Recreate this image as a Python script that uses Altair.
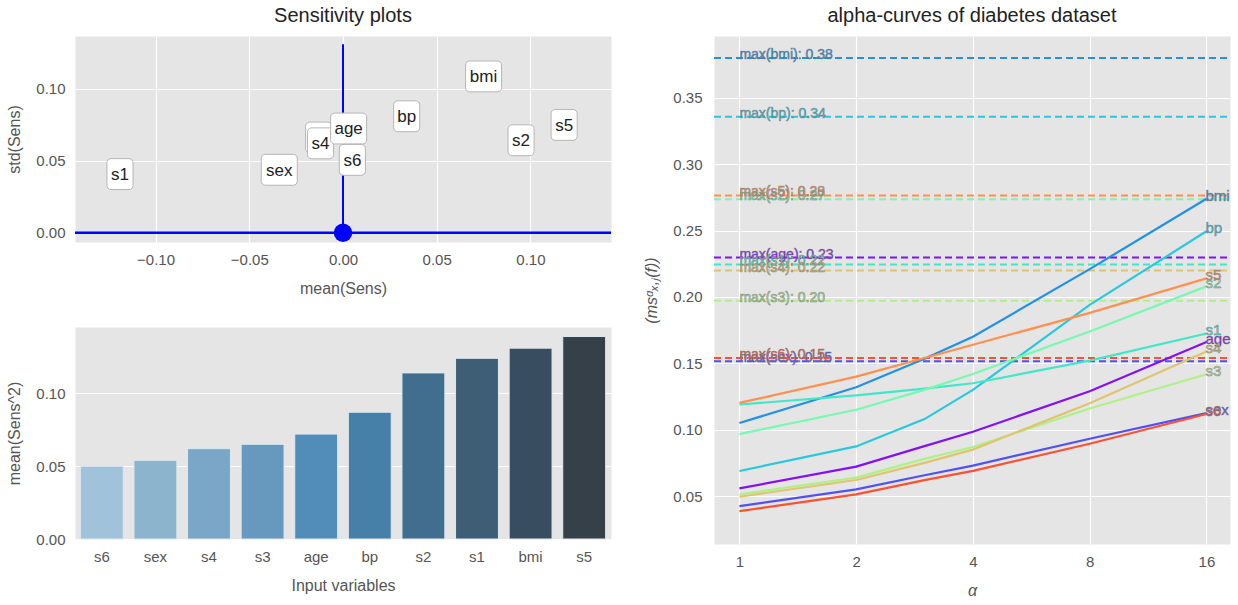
import altair as alt
import pandas as pd

# ---------------- data ----------------
variables = ["age", "sex", "bmi", "bp", "s1", "s2", "s3", "s4", "s5", "s6"]

# sensitivity scatter (label drawing order)
scatter_vars = ["s1", "sex", "s3", "s4", "age", "s6", "bp", "bmi", "s2", "s5"]
scatter_mean = [-0.119, -0.034, -0.013, -0.012, 0.003, 0.005, 0.034, 0.075, 0.095, 0.118]
scatter_std = [0.0408, 0.0438, 0.0662, 0.0622, 0.0725, 0.0507, 0.081, 0.1087, 0.0643, 0.075]

x_lim = [-0.143, 0.143]
y_lim = [-0.0064, 0.1368]
vline_top = 0.131

# bar chart
bar_vars = ["s6", "sex", "s4", "s3", "age", "bp", "s2", "s1", "bmi", "s5"]
bar_vals = [0.050, 0.054, 0.062, 0.065, 0.072, 0.087, 0.114, 0.124, 0.131, 0.139]
bar_colors = ["#a0c3d9", "#8cb4cd", "#7aa7c7", "#6799bf", "#528cb9",
              "#467fa8", "#416e8f", "#3e5e76", "#384e60", "#364048"]

# alpha curves
alphas = [1, 2, 3, 4, 8, 16]
curves = {
    "age": [0.0558, 0.0722, 0.0876, 0.0985, 0.129, 0.166],
    "sex": [0.0424, 0.055, 0.0657, 0.073, 0.0932, 0.1125],
    "bmi": [0.105, 0.132, 0.1535, 0.170, 0.221, 0.274],
    "bp": [0.0689, 0.0874, 0.108, 0.130, 0.194, 0.2495],
    "s1": [0.119, 0.1258, 0.131, 0.135, 0.152, 0.1725],
    "s2": [0.0967, 0.115, 0.130, 0.142, 0.174, 0.208],
    "s3": [0.0513, 0.0639, 0.078, 0.087, 0.116, 0.1418],
    "s4": [0.0495, 0.0621, 0.075, 0.085, 0.120, 0.159],
    "s5": [0.1202, 0.140, 0.154, 0.164, 0.188, 0.214],
    "s6": [0.0386, 0.0513, 0.062, 0.069, 0.0894, 0.1118],
}
max_vals = [0.2297, 0.1515, 0.380, 0.3357, 0.2245, 0.2737, 0.1972, 0.2199, 0.2765, 0.154]
line_colors = ["#8410fa", "#5050fa", "#2090e8", "#28c8e0", "#40e8c8",
               "#78f8b0", "#b0f088", "#e0c470", "#ff9050", "#ff5030"]
alpha_lim = [0.86, 18.4]
ms_lim = [0.0139, 0.3966]

FONT = "Liberation Sans"
GREY = "#555555"

# ---------------- sensitivity scatter ----------------
sc_df = pd.DataFrame({"var": scatter_vars, "mean": scatter_mean, "std": scatter_std})

xs = alt.Scale(domain=x_lim, nice=False, zero=False)
ys = alt.Scale(domain=y_lim, nice=False, zero=False)

minus = "replace(datum.label, '-', '\u2212')"
x_ax = alt.Axis(values=[-0.10, -0.05, 0.0, 0.05, 0.10], format=".2f", labelExpr=minus,
                title="mean(Sens)")
y_ax = alt.Axis(values=[0.0, 0.05, 0.10], format=".2f", title="std(Sens)")

hl = pd.DataFrame({"x": [x_lim[0]], "x2": [x_lim[1]], "y": [0.0]})
vl = pd.DataFrame({"x": [0.0], "y": [0.0], "y2": [vline_top]})
origin = pd.DataFrame({"x": [0.0], "y": [0.0]})

hrule = alt.Chart(hl).mark_rule(color="#0000ff", strokeWidth=2.5).encode(
    x=alt.X("x:Q", scale=xs, axis=x_ax), x2="x2:Q",
    y=alt.Y("y:Q", scale=ys, axis=y_ax))
vrule = alt.Chart(vl).mark_rule(color="#0000ff", strokeWidth=2).encode(
    x=alt.X("x:Q", scale=xs), y=alt.Y("y:Q", scale=ys), y2="y2:Q")
dot = alt.Chart(origin).mark_point(filled=True, color="#0000ff", opacity=1, size=340).encode(
    x=alt.X("x:Q", scale=xs), y=alt.Y("y:Q", scale=ys))


def rrect(w, h, r):
    return (f"M{-w + r},{-h} L{w - r},{-h} A{r},{r} 0 0 1 {w},{-h + r} "
            f"L{w},{h - r} A{r},{r} 0 0 1 {w - r},{h} L{-w + r},{h} "
            f"A{r},{r} 0 0 1 {-w},{h - r} L{-w},{-h + r} A{r},{r} 0 0 1 {-w + r},{-h} Z")


sc_layers = [hrule, vrule, dot]
for v in scatter_vars:
    sub = sc_df[sc_df["var"] == v]
    hw = 1.2 if len(v) > 2 else 0.87
    sc_layers.append(
        alt.Chart(sub).mark_point(shape=rrect(hw, 1.03, 0.27), filled=True, fill="white",
                                  stroke="#b5b5b5", strokeWidth=1, opacity=1, size=900)
        .encode(x=alt.X("mean:Q", scale=xs), y=alt.Y("std:Q", scale=ys)))
    sc_layers.append(
        alt.Chart(sub).mark_text(font=FONT, fontSize=17, color="#222222",
                                 baseline="middle", align="center", dy=1)
        .encode(x=alt.X("mean:Q", scale=xs), y=alt.Y("std:Q", scale=ys), text="var:N"))

scatter = alt.layer(*sc_layers).properties(
    width=536, height=206,
    title=alt.TitleParams("Sensitivity plots", fontSize=20, font=FONT, color="#222222",
                          fontWeight="normal", offset=10))

# ---------------- bar chart ----------------
bar_df = pd.DataFrame({"var": bar_vars, "val": bar_vals})
bars = alt.Chart(bar_df).mark_bar(stroke="#dfe8ee", strokeWidth=1).encode(
    x=alt.X("var:N", sort=bar_vars, title="Input variables",
            scale=alt.Scale(paddingInner=0.2, paddingOuter=0.1),
            axis=alt.Axis(labelAngle=0, grid=False)),
    y=alt.Y("val:Q", title="mean(Sens^2)",
            scale=alt.Scale(domain=[0, 0.1455], nice=False),
            axis=alt.Axis(values=[0.0, 0.05, 0.10], format=".2f")),
    color=alt.Color("var:N", scale=alt.Scale(domain=bar_vars, range=bar_colors), legend=None),
).properties(width=536, height=212)

# ---------------- alpha curves ----------------
rows = []
for v in variables:
    for a, m in zip(alphas, curves[v]):
        rows.append({"series": v, "alpha": a, "ms": m})
cur_df = pd.DataFrame(rows)
max_df = pd.DataFrame({"series": variables, "mx": max_vals,
                       "x1": alpha_lim[0], "x2": alpha_lim[1], "a1": alphas[0]})
end_df = pd.DataFrame({"series": variables, "alpha": alphas[-1],
                       "ms": [curves[v][-1] for v in variables]})

ax_s = alt.Scale(type="log", base=2, domain=alpha_lim, nice=False)
ms_s = alt.Scale(domain=ms_lim, nice=False, zero=False)
col = alt.Color("series:N", scale=alt.Scale(domain=variables, range=line_colors), legend=None)

lines = alt.Chart(cur_df).mark_line(strokeWidth=2.2).encode(
    x=alt.X("alpha:Q", scale=ax_s, title="\u03b1",
            axis=alt.Axis(values=[1, 2, 4, 8, 16], format="d", titleFontStyle="italic")),
    y=alt.Y("ms:Q", scale=ms_s, title="(ms\u1d45\u2093,\u2c7c(f))",
            axis=alt.Axis(values=[0.05, 0.10, 0.15, 0.20, 0.25, 0.30, 0.35], format=".2f",
                          titleFontStyle="italic", labelPadding=12)),
    color=col, detail="series:N")

max_rules = alt.Chart(max_df).mark_rule(strokeWidth=2, strokeDash=[7, 4]).encode(
    x=alt.X("x1:Q", scale=ax_s), x2="x2:Q", y=alt.Y("mx:Q", scale=ms_s), color=col)

max_text = alt.Chart(max_df).transform_calculate(
    lab="'max(' + datum.series + '): ' + format(datum.mx, '.2f')"
).mark_text(font=FONT, fontSize=14, align="left", baseline="alphabetic",
            stroke="#777777", strokeWidth=0.6, strokeOpacity=0.8, dy=1).encode(
    x=alt.X("a1:Q", scale=ax_s), y=alt.Y("mx:Q", scale=ms_s), text="lab:N", color=col)

end_text = alt.Chart(end_df).mark_text(font=FONT, fontSize=15, align="left", baseline="alphabetic",
                                       stroke="#777777", strokeWidth=0.6, strokeOpacity=0.8,
                                       dx=-1, dy=2).encode(
    x=alt.X("alpha:Q", scale=ax_s), y=alt.Y("ms:Q", scale=ms_s), text="series:N", color=col)

alpha_chart = alt.layer(max_rules, lines, max_text, end_text).properties(
    width=516, height=508,
    title=alt.TitleParams("alpha-curves of diabetes dataset", fontSize=20, font=FONT,
                          color="#222222", fontWeight="normal", offset=10))

left = alt.vconcat(scatter, bars, spacing=29)
chart = alt.hconcat(left, alpha_chart, spacing=30).resolve_scale(
    color="independent"
).properties(
    background="white", padding={"left": 6, "top": 5, "right": 5, "bottom": 5}
).configure_view(
    fill="#e5e5e5", stroke="transparent"
).configure_axis(
    labelFont=FONT, labelFontSize=15, labelColor=GREY, labelPadding=10,
    titleFont=FONT, titleFontSize=16, titleColor=GREY, titleFontWeight="normal",
    titlePadding=13, domain=False, ticks=False, gridColor="white", gridWidth=1.2,
)

chart.save("out.html", embed_options={"renderer": "svg", "actions": False})
